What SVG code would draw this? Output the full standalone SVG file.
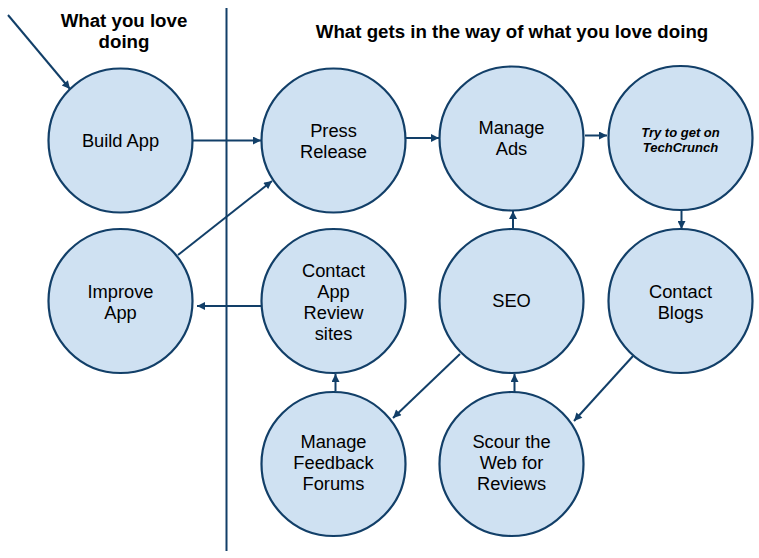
<svg xmlns="http://www.w3.org/2000/svg" width="759" height="558" viewBox="0 0 759 558">
<defs>
<marker id="ah" viewBox="0 0 10 10" refX="10" refY="5" markerWidth="10" markerHeight="8" markerUnits="userSpaceOnUse" orient="auto"><path d="M0,0 L10,5 L0,10 z" fill="#123f68"/></marker>
<style>
.n{fill:#cfe1f2;stroke:#123f68;stroke-width:2.2}
.t{font-family:"Liberation Sans",Arial,sans-serif;font-size:18.3px;fill:#000;text-anchor:middle}
.ti{font-family:"Liberation Sans",Arial,sans-serif;font-size:13px;font-weight:bold;font-style:italic;fill:#000;text-anchor:middle}
.h{font-family:"Liberation Sans",Arial,sans-serif;font-size:18.7px;font-weight:bold;fill:#000;text-anchor:middle}
.c{stroke:#123f68;stroke-width:2;fill:none;marker-end:url(#ah)}
</style>
</defs>
<rect width="759" height="558" fill="#fff"/>
<text class="h" x="124" y="27">What you love</text>
<text class="h" x="124" y="48">doing</text>
<text class="h" x="512" y="38">What gets in the way of what you love doing</text>
<line x1="226.5" y1="8" x2="226.5" y2="551" stroke="#123f68" stroke-width="2"/>
<g id="build"><circle class="n" cx="120.5" cy="140.5" r="72"/><text class="t" x="120.5" y="147">Build App</text></g>
<g id="press"><circle class="n" cx="333.5" cy="140.5" r="72"/><text class="t" x="333.5" y="137">Press</text><text class="t" x="333.5" y="158">Release</text></g>
<g id="ads"><circle class="n" cx="511.5" cy="138.5" r="72"/><text class="t" x="511.5" y="134">Manage</text><text class="t" x="511.5" y="155">Ads</text></g>
<g id="tc"><circle class="n" cx="680.5" cy="138" r="72"/><text class="ti" x="680.5" y="137">Try to get on</text><text class="ti" x="680.5" y="152">TechCrunch</text></g>
<g id="improve"><circle class="n" cx="120.5" cy="301" r="72"/><text class="t" x="120.5" y="298">Improve</text><text class="t" x="120.5" y="319">App</text></g>
<g id="contactapp"><circle class="n" cx="333.5" cy="301" r="72"/><text class="t" x="333.5" y="277">Contact</text><text class="t" x="333.5" y="298">App</text><text class="t" x="333.5" y="319">Review</text><text class="t" x="333.5" y="340">sites</text></g>
<g id="seo"><circle class="n" cx="511.5" cy="301" r="72"/><text class="t" x="511.5" y="307">SEO</text></g>
<g id="blogs"><circle class="n" cx="680.5" cy="301" r="72"/><text class="t" x="680.5" y="298">Contact</text><text class="t" x="680.5" y="319">Blogs</text></g>
<g id="forums"><circle class="n" cx="333.5" cy="464" r="72"/><text class="t" x="333.5" y="448">Manage</text><text class="t" x="333.5" y="469">Feedback</text><text class="t" x="333.5" y="490">Forums</text></g>
<g id="scour"><circle class="n" cx="511.5" cy="464" r="72"/><text class="t" x="511.5" y="448">Scour the</text><text class="t" x="511.5" y="469">Web for</text><text class="t" x="511.5" y="490">Reviews</text></g>
<g id="connectors">
<line class="c" x1="8" y1="15" x2="70" y2="89"/>
<line class="c" x1="193" y1="140.5" x2="261" y2="140.5"/>
<line class="c" x1="406" y1="138" x2="439" y2="138"/>
<line class="c" x1="585" y1="135.5" x2="607" y2="135.5"/>
<line class="c" x1="681.5" y1="210" x2="681.5" y2="229"/>
<line class="c" x1="513" y1="229" x2="513" y2="211"/>
<line class="c" x1="514.5" y1="392" x2="514.5" y2="374"/>
<line class="c" x1="335.5" y1="391" x2="335.5" y2="374"/>
<line class="c" x1="460" y1="354" x2="393" y2="418"/>
<line class="c" x1="633" y1="356" x2="574" y2="421"/>
<line class="c" x1="261" y1="306" x2="197" y2="306"/>
<line class="c" x1="178" y1="255" x2="272" y2="181"/>
</g>
</svg>
